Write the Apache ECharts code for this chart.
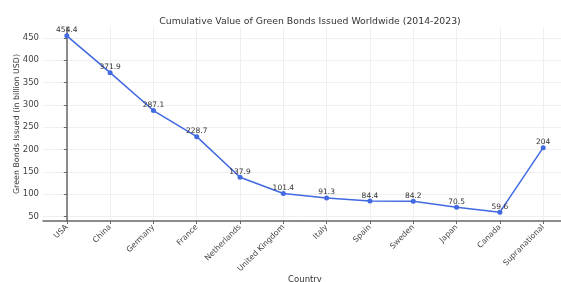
<!DOCTYPE html>
<html>
<head>
<meta charset="utf-8">
<script src="https://cdn.jsdelivr.net/npm/echarts@6/dist/echarts.min.js"></script>
<style>
  html, body { margin: 0; padding: 0; background: #fff; }
  #chart { width: 561px; height: 282px; }
</style>
</head>
<body>
<div id="chart"></div>
<script>
var countries = ['USA', 'China', 'Germany', 'France', 'Netherlands', 'United Kingdom',
  'Italy', 'Spain', 'Sweden', 'Japan', 'Canada', 'Supranational'];
var bondValues = [454.4, 371.9, 287.1, 228.7, 137.9, 101.4, 91.3, 84.4, 84.2, 70.5, 59.6, 204];
var yTicks = [50, 100, 150, 200, 250, 300, 350, 400, 450];

var font = 'DejaVu Sans';
var chart = echarts.init(document.getElementById('chart'));

// x positions are category indexes, padded like matplotlib's default margins
var xTicks = countries.map(function (c, i) { return i; });
var lineData = bondValues.map(function (v, i) { return [i, v]; });

var option = {
  backgroundColor: '#fff',
  animation: false,
  title: {
    text: 'Cumulative Value of Green Bonds Issued Worldwide (2014-2023)',
    left: 305,
    top: 12,
    textAlign: 'center',
    textStyle: { fontFamily: font, fontSize: 9.3, fontWeight: 'normal', color: '#333' }
  },
  grid: { left: 43, right: -6, top: 27, bottom: 61, outerBoundsMode: 'none', containLabel: false },
  xAxis: {
    type: 'value',
    min: -0.55,
    max: 11.55,
    name: 'Country',
    nameLocation: 'middle',
    nameGap: 54,
    nameMoveOverlap: false,
    nameTextStyle: { fontFamily: font, fontSize: 8.5, color: '#333' },
    axisLine: { lineStyle: { color: '#666', width: 1.5 } },
    axisTick: { show: true, length: 3, customValues: xTicks, lineStyle: { color: '#666' } },
    axisLabel: {
      customValues: xTicks,
      rotate: 45,
      fontFamily: font,
      fontSize: 7.8,
      color: '#444',
      margin: 5,
      formatter: function (v) { return countries[Math.round(v)]; }
    },
    splitLine: { show: true, lineStyle: { color: '#ebebeb', width: 0.8 } }
  },
  yAxis: {
    type: 'value',
    min: 39.86,
    max: 474.14,
    name: 'Green Bonds Issued (in billion USD)',
    nameLocation: 'middle',
    nameGap: 22,
    nameMoveOverlap: false,
    nameTextStyle: { fontFamily: font, fontSize: 7.9, color: '#333', verticalAlign: 'bottom' },
    axisLine: { show: true, lineStyle: { color: '#666', width: 1.5 } },
    axisTick: { show: true, length: 3, customValues: yTicks, lineStyle: { color: '#666' } },
    axisLabel: { customValues: yTicks, fontFamily: font, fontSize: 8.5, color: '#444', margin: 4 },
    splitLine: { show: true, lineStyle: { color: '#ebebeb', width: 0.8 } }
  },
  series: [{
    type: 'line',
    data: lineData,
    symbol: 'circle',
    symbolSize: 5,
    itemStyle: { color: '#4169e1' },
    lineStyle: { color: '#4169e1', width: 1.5 },
    label: {
      show: true,
      position: 'top',
      distance: -1,
      fontFamily: font,
      fontSize: 7.5,
      color: '#333',
      formatter: function (p) { return p.value[1]; }
    }
  }]
};

chart.setOption(option);
</script>
</body>
</html>
